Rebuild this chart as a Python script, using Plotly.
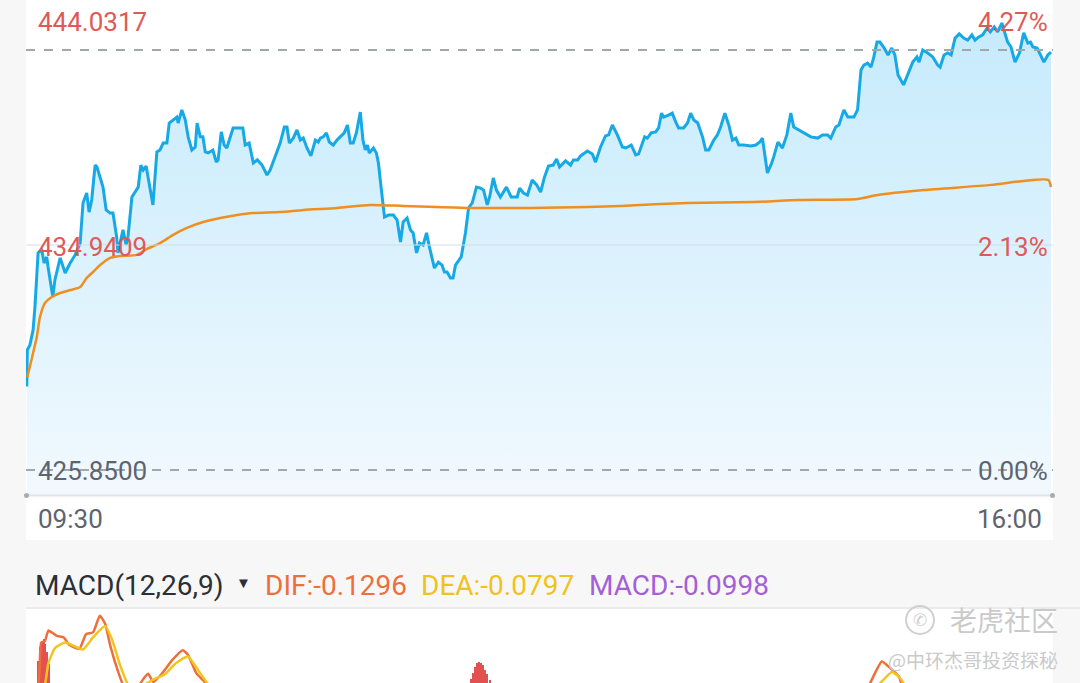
import plotly.graph_objects as go

# ---------------- data ----------------
minutes = [0.3,0.5,1.5,2.7,3.4,4.6,6.0,6.9,7.9,8.4,10.2,11.0,13.0,14.9,16.8,18.7,20.6,21.7,23.1,24.0,25.0,26.3,27.0,29.3,30.5,32.0,33.1,34.5,35.0,36.9,38.1,38.8,40.3,41.5,42.7,43.7,44.6,45.7,47.2,48.3,49.8,51.0,52.2,53.6,54.5,56.0,57.4,57.9,59.3,60.6,61.7,63.1,64.4,65.1,66.3,67.3,68.2,69.3,71.1,72.4,73.1,74.3,75.4,76.4,77.7,78.8,81.5,82.5,83.4,84.9,86.5,88.0,89.8,91.7,92.9,94.8,96.7,98.3,99.3,100.2,101.7,103.1,104.4,105.5,106.9,108.4,110.1,111.2,112.0,113.1,114.3,115.4,116.9,118.3,120.2,121.1,122.3,123.4,124.5,125.7,127.2,128.2,129.1,129.9,130.6,132.2,133.3,134.1,135.1,135.9,136.4,137.9,139.8,141.2,142.5,143.5,145.0,146.3,147.3,148.6,149.7,151.1,152.4,153.5,155.4,156.9,158.3,159.2,160.2,161.5,162.5,163.4,165.6,167.2,168.4,169.8,171.4,172.9,174.1,175.5,176.4,177.8,179.0,180.5,182.8,184.6,186.9,187.8,189.3,190.8,192.6,194.3,195.8,197.3,198.8,200.6,201.9,203.0,205.3,207.2,208.3,209.9,211.0,213.6,215.5,216.7,218.6,220.5,221.7,223.1,225.0,226.9,228.2,230.3,232.0,233.1,234.5,235.4,236.4,237.9,239.6,240.7,241.8,242.6,244.5,245.9,247.2,248.3,250.2,251.7,252.9,254.1,255.6,257.4,258.6,259.8,261.7,263.1,264.3,265.9,267.4,268.8,270.1,271.2,273.1,275.8,277.7,279.2,280.2,281.1,282.1,283.7,284.5,286.1,287.8,289.5,291.0,292.1,294.0,298.6,301.2,303.1,305.0,306.2,308.1,309.3,311.2,312.7,315.0,316.4,317.7,318.8,320.2,321.5,322.5,323.8,324.9,326.3,328.0,329.4,330.6,331.8,333.9,335.5,337.4,339.0,339.8,341.2,343.1,345.0,346.9,347.8,349.3,350.7,352.0,353.5,355.1,356.8,358.3,359.9,361.1,362.4,364.0,365.7,366.9,368.4,369.7,371.3,372.5,373.5,374.8,376.3,378.0,379.6,381.2,382.2,383.1,384.7,386.0,387.3,388.8,390.0]
price = [429.22,430.70,430.90,431.51,432.44,434.62,434.74,434.21,434.46,434.05,432.84,433.53,434.42,433.81,434.21,434.54,435.02,436.64,437.04,436.27,436.76,438.17,438.09,437.28,436.36,436.23,436.23,435.26,434.62,435.55,434.94,435.26,436.88,437.08,437.28,438.17,437.97,438.13,437.16,436.56,438.70,438.78,439.06,439.06,439.87,439.99,440.11,439.87,440.40,439.99,439.31,438.78,438.90,439.87,439.31,439.31,438.70,438.66,438.78,438.29,438.38,439.51,438.98,438.86,439.31,439.67,439.67,439.67,438.98,439.06,438.25,438.38,438.17,437.77,437.97,438.50,439.06,439.71,439.71,439.06,439.26,439.59,439.18,439.26,438.86,438.54,439.18,439.10,439.26,439.31,439.47,439.10,438.98,439.18,439.39,439.47,439.79,439.06,439.06,439.47,440.31,439.18,438.78,438.98,438.66,438.86,438.66,438.25,437.28,436.64,436.07,436.15,436.15,435.95,435.06,435.87,436.03,435.55,435.43,434.62,435.02,434.94,435.43,434.86,434.01,434.25,434.13,433.85,433.85,433.61,433.61,434.13,434.46,435.43,436.44,436.64,437.28,437.24,437.16,436.56,436.88,437.65,437.16,436.88,437.28,436.88,436.88,437.24,437.04,436.96,437.57,437.37,437.08,437.69,438.13,438.17,438.42,438.09,438.34,438.17,438.38,438.38,438.54,438.74,438.62,438.29,438.90,439.35,439.39,439.79,439.39,438.90,438.86,438.98,438.58,438.62,439.10,439.31,439.26,439.47,439.51,439.67,440.27,440.11,440.19,440.27,439.91,439.67,439.67,439.87,440.27,439.99,439.87,439.31,438.78,438.78,439.18,439.39,439.71,440.27,439.79,439.18,439.26,438.98,438.98,438.94,438.98,439.10,439.26,438.50,437.85,438.25,438.50,439.10,438.86,439.39,440.27,439.71,439.59,439.31,439.26,439.39,439.39,439.26,439.71,439.79,440.40,440.11,440.11,440.40,442.01,442.21,442.29,442.13,442.50,443.14,443.14,442.94,442.62,442.90,442.62,441.81,441.41,441.81,442.33,442.54,442.33,442.82,442.70,442.54,442.21,442.13,442.62,442.70,442.62,443.30,443.47,443.30,443.22,443.43,443.22,443.34,443.43,443.71,443.55,443.75,443.55,443.91,443.51,443.14,442.94,442.33,442.70,443.51,443.10,443.14,442.94,442.90,442.62,442.33,442.62,442.74]

avg_minutes = [0.5,2.7,4.1,5.3,7.2,9.8,13.0,16.8,20.6,23.1,25.5,28.2,32.0,35.8,42.2,46.0,51.0,56.0,61.2,67.4,73.9,80.3,86.5,96.7,105.5,118.3,131.0,143.6,156.4,169.1,192.0,213.6,226.2,251.7,276.9,294.0,316.4,324.0,341.7,367.2,379.7,389.0,390.0]
avg_price = [429.60,430.58,431.22,432.02,432.60,432.84,433.00,433.12,433.24,433.61,433.85,434.13,434.42,434.50,434.54,434.78,435.02,435.35,435.63,435.87,436.03,436.15,436.23,436.27,436.36,436.44,436.56,436.52,436.48,436.44,436.44,436.48,436.52,436.64,436.68,436.76,436.80,436.96,437.16,437.37,437.53,437.57,437.28]

dif_minutes = [0.0,4.5,5.8,7.2,8.5,9.8,11.7,14.4,16.3,20.3,22.9,25.5,28.1,30.1,32.1,35.3,37.3,39.5,42.5,45.2,46.5,48.4,51.7,55.7,59.6,61.6,64.9,67.5,69.4,72.0,120.0,170.0,220.0,300.0,318.0,320.4,325.6,328.2,332.2,333.5,336.0,360.0,390.0]
dif_vals = [0.05,0.123,0.427,0.438,0.509,0.497,0.473,0.462,0.414,0.384,0.486,0.497,0.610,0.556,0.403,0.214,0.123,0.08,0.123,0.191,0.214,0.157,0.214,0.308,0.375,0.344,0.214,0.167,0.123,0.08,0.02,0.10,0.05,0.02,0.08,0.123,0.297,0.262,0.191,0.123,0.08,-0.05,-0.1296]
dea_minutes = [0.0,6.9,8.5,11.1,15.0,18.3,21.6,25.5,30.1,32.7,36.0,39.3,41.5,43.9,47.8,53.1,57.0,61.6,65.5,70.1,73.0,120.0,170.0,250.0,320.0,323.6,329.5,332.8,334.8,337.0,360.0,390.0]
dea_vals = [0.02,0.123,0.285,0.391,0.427,0.403,0.379,0.462,0.540,0.450,0.262,0.123,0.09,0.123,0.167,0.214,0.285,0.332,0.238,0.123,0.09,0.05,0.06,0.03,0.09,0.123,0.226,0.179,0.123,0.09,-0.02,-0.0797]
hist_minutes = [4.6,5.3,6.0,6.7,7.4,8.1,8.8,169.2,170.0,170.8,171.6,172.4,173.2,174.0,174.8,175.6,176.4]
hist_vals = [0.30,0.40,0.44,0.45,0.42,0.36,0.28,0.18,0.22,0.26,0.285,0.297,0.29,0.27,0.24,0.21,0.17]

y_left_labels = ["444.0317", "434.9409", "425.8500"]
y_right_labels = ["4.27%", "2.13%", "0.00%"]
time_labels = ["09:30", "16:00"]
prev_close = 425.85
top_value = 444.0317
mid_value = 434.9409
ref_line = 442.82

# ---------------- figure ----------------
W, H = 1080, 683
FONT = "Roboto"
RED = "#df5a57"
GRAY = "#5d6470"

x_dom = [26 / W, 1053 / W]
x_rng = [0, 390 * 1027 / 1025]

fig = go.Figure()

fig.add_trace(go.Scatter(
    x=minutes, y=price, mode="lines",
    line=dict(color="#16a9e6", width=3),
    fill="tozeroy",
    fillgradient=dict(type="vertical",
                      colorscale=[[0, "rgb(241,249,254)"], [1, "rgb(196,234,252)"]],
                      start=424.84, stop=444.84),
    xaxis="x", yaxis="y", hoverinfo="skip", showlegend=False))

fig.add_trace(go.Scatter(
    x=avg_minutes, y=avg_price, mode="lines",
    line=dict(color="#ef8f1f", width=2.5, shape="spline", smoothing=0.6),
    xaxis="x", yaxis="y", hoverinfo="skip", showlegend=False))

# MACD panel
fig.add_trace(go.Bar(
    x=hist_minutes, y=hist_vals, marker=dict(color="#e2504f", line=dict(width=0)),
    width=0.45, xaxis="x2", yaxis="y2", hoverinfo="skip", showlegend=False))
fig.add_trace(go.Scatter(
    x=dif_minutes, y=dif_vals, mode="lines",
    line=dict(color="#ec6f3c", width=2.5, shape="spline", smoothing=0.5),
    xaxis="x2", yaxis="y2", hoverinfo="skip", showlegend=False))
fig.add_trace(go.Scatter(
    x=dea_minutes, y=dea_vals, mode="lines",
    line=dict(color="#f3c51c", width=2.5, shape="spline", smoothing=0.5),
    xaxis="x2", yaxis="y2", hoverinfo="skip", showlegend=False))

shapes = [
    # white panels
    dict(type="rect", xref="paper", yref="paper", x0=26 / W, x1=1053 / W,
         y0=1 - 540 / H, y1=1, fillcolor="white", line=dict(width=0), layer="below"),
    dict(type="rect", xref="paper", yref="paper", x0=26 / W, x1=1053 / W,
         y0=0, y1=1 - 609 / H, fillcolor="white", line=dict(width=0), layer="below"),
    # separator under MACD header
    dict(type="line", xref="paper", yref="paper", x0=26 / W, x1=1,
         y0=1 - 608 / H, y1=1 - 608 / H, line=dict(color="#dedede", width=1)),
    # mid grid line
    dict(type="line", xref="x", yref="y", x0=x_rng[0], x1=x_rng[1],
         y0=mid_value, y1=mid_value, line=dict(color="#d3dde6", width=1)),
    # dashed reference lines
    dict(type="line", xref="x", yref="y", x0=x_rng[0], x1=x_rng[1],
         y0=ref_line, y1=ref_line, line=dict(color="#a3a6ab", width=2, dash="dash")),
    dict(type="line", xref="x", yref="y", x0=x_rng[0], x1=x_rng[1],
         y0=prev_close, y1=prev_close, line=dict(color="#a3a6ab", width=2, dash="dash")),
    # axis baseline
    dict(type="line", xref="paper", yref="paper", x0=26 / W, x1=1053 / W,
         y0=1 - 495.5 / H, y1=1 - 495.5 / H, line=dict(color="#dfe3e8", width=2)),
    dict(type="circle", xref="paper", yref="paper", x0=24 / W, x1=29 / W,
         y0=1 - 498 / H, y1=1 - 493 / H, fillcolor="#a9acb0", line=dict(width=0)),
    dict(type="circle", xref="paper", yref="paper", x0=1050 / W, x1=1055 / W,
         y0=1 - 498 / H, y1=1 - 493 / H, fillcolor="#a9acb0", line=dict(width=0)),
    # watermark logo circle
    dict(type="circle", xref="paper", yref="paper", x0=906 / W, x1=934 / W,
         y0=1 - 634 / H, y1=1 - 606 / H, fillcolor="rgba(0,0,0,0)",
         line=dict(color="#cfcfcf", width=2)),
]

def ann(text, x, y, color, size=26, anchor="left", family=FONT):
    return dict(text=text, xref="paper", yref="paper", x=x / W, y=1 - y / H,
                xanchor=anchor, yanchor="middle", showarrow=False,
                font=dict(family=family, size=size, color=color))

annotations = [
    ann(y_left_labels[0], 36, 22, RED),
    ann(y_left_labels[1], 36, 247, RED),
    ann(y_left_labels[2], 36, 471, GRAY),
    ann(y_right_labels[0], 1050, 22, RED, anchor="right"),
    ann(y_right_labels[1], 1050, 247, RED, anchor="right"),
    ann(y_right_labels[2], 1050, 471, GRAY, anchor="right"),
    ann(time_labels[0], 36, 519, GRAY),
    ann(time_labels[1], 1044, 519, GRAY, anchor="right"),
    ann("MACD(12,26,9)", 33, 585, "#2b2f36", size=28),
    ann("▼", 234, 583, "#2b2f36", size=15),
    ann("DIF:-0.1296", 263, 585, "#ec6f3c", size=28),
    ann("DEA:-0.0797", 419, 585, "#f1c21b", size=28),
    ann("MACD:-0.0998", 587, 585, "#a55fd6", size=28),
    ann("✆", 920, 620, "#cfcfcf", size=17, anchor="center", family="DejaVu Sans"),
    ann("老虎社区", 1060, 619, "#cacaca", size=27, anchor="right", family="Noto Sans CJK SC"),
    ann("@中环杰哥投资探秘", 1060, 659, "#cacaca", size=19, anchor="right", family="Noto Sans CJK SC"),
]

fig.update_layout(
    width=W, height=H,
    margin=dict(l=0, r=0, t=0, b=0),
    paper_bgcolor="#f7f7f7",
    plot_bgcolor="rgba(0,0,0,0)",
    showlegend=False,
    bargap=0,
    xaxis=dict(domain=x_dom, range=x_rng, visible=False, fixedrange=True),
    yaxis=dict(domain=[1 - 495 / H, 1], range=[424.84, 444.84], visible=False, fixedrange=True),
    xaxis2=dict(domain=x_dom, range=x_rng, visible=False, anchor="y2", fixedrange=True),
    yaxis2=dict(domain=[0, 1 - 610 / H], range=[0.15, 0.65], visible=False, anchor="x2", fixedrange=True),
    shapes=shapes,
    annotations=annotations,
)

fig.write_html(
    "out.html",
    config={"displayModeBar": False},
    post_script="document.body.style.margin='0';document.body.style.padding='0';document.body.style.overflow='hidden';",
)
